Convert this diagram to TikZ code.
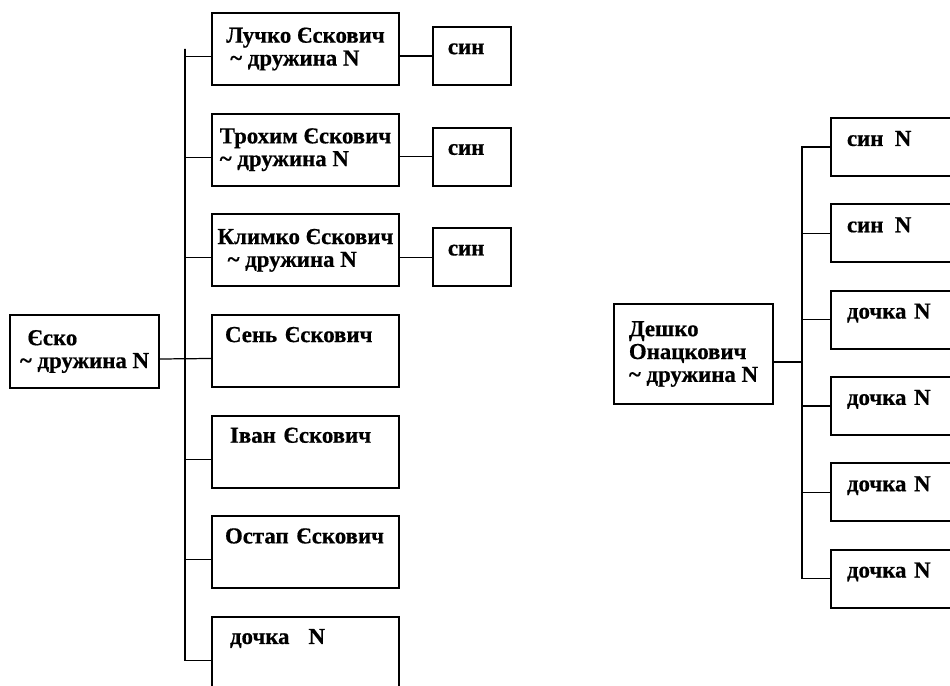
\documentclass[tikz,border=0pt]{standalone}
\usepackage{fontspec}
\setmainfont{Liberation Serif}[BoldFeatures={FakeBold=0.6}]
\usetikzlibrary{positioning}

\begin{document}
\begin{tikzpicture}[x=0.02cm, y=-0.02cm, node distance=0.535cm,
    font=\fontsize{13}{13}\selectfont\bfseries,
    person/.style={draw, rectangle, line width=1.1pt, minimum width=3.74cm, minimum height=1.44cm, align=left, inner sep=2pt},
    single/.style={person, text width=3.22cm, inner xsep=0.26cm, text depth=0.66cm},
    sonbox/.style={draw, rectangle, line width=1.1pt, minimum width=1.56cm, minimum height=1.16cm, text width=0.96cm, inner xsep=0.3cm, align=left, text depth=0.29cm},
    kidbox/.style={draw, rectangle, line width=1.1pt, minimum width=2.7cm, minimum height=1.16cm, text width=2.06cm, inner xsep=0.32cm, align=left, text depth=0.34cm},
    link/.style={line width=0.7pt}
    ]
    \path[use as bounding box, clip] (0,0) rectangle (950,686);

    \node[person, minimum width=2.98cm, minimum height=1.46cm] (esko) at (84.5,351.5) {\hspace*{0.15cm}Єско\\\textasciitilde\ дружина N};

    \node[person] (luchko) at (305.5,49) {Лучко Єскович\\\hspace*{0.08cm}\textasciitilde\ дружина N};
    \node[person, below=of luchko] (trokhym) {Трохим Єскович\\\textasciitilde\ дружина N};
    \node[person, below=of trokhym] (klymko) {Климко Єскович\\\hspace*{0.2cm}\textasciitilde\ дружина N};
    \node[single, below=of klymko] (sen) {Сень Єскович};
    \node[single, below=of sen] (ivan) {\hspace*{0.1cm}Іван Єскович};
    \node[single, below=of ivan] (ostap) {Остап Єскович};
    \node[single, below=of ostap] (dochka) {\hspace*{0.1cm}дочка\enspace\ N};

    \node[sonbox, right=0.64cm of luchko.south east, anchor=south west] (luchko_son) {син};
    \node[sonbox, right=0.64cm of trokhym.south east, anchor=south west] (trokhym_son) {син};
    \node[sonbox, right=0.64cm of klymko.south east, anchor=south west] (klymko_son) {син};

    \coordinate (l_trunk) at ([xshift=-0.52cm]luchko.west);
    \draw[link] ([yshift=-0.15cm]esko.east) -- ([yshift=-0.15cm]sen.west);
    \draw[link] ([yshift=-0.15cm]luchko.west) -| (l_trunk) |- ([yshift=-0.15cm]dochka.west);
    \foreach \kid in {trokhym,klymko,ivan,ostap} {
      \draw[link] ([yshift=-0.15cm]\kid.west) -- ([yshift=-0.15cm]\kid.west -| l_trunk);
    };
    \foreach \p in {luchko,trokhym,klymko} {
      \draw[link] (\p_son.west) -- (\p_son.west -| \p.east);
    };

    \node[person, minimum width=3.18cm, minimum height=2cm] (deshko) at (693.5,354) {Дешко\\Онацкович\\\textasciitilde\ дружина N};

    \node[kidbox, anchor=north west] (d_son1) at (830,117) {син\,\ N};
    \node[kidbox, below=0.528cm of d_son1] (d_son2) {син\,\ N};
    \node[kidbox, below=0.528cm of d_son2] (d_daughter1) {дочка N};
    \node[kidbox, below=0.528cm of d_daughter1] (d_daughter2) {дочка N};
    \node[kidbox, below=0.528cm of d_daughter2] (d_daughter3) {дочка N};
    \node[kidbox, below=0.528cm of d_daughter3] (d_daughter4) {дочка N};

    \coordinate (r_trunk) at ([xshift=-0.56cm]d_son1.west);
    \draw[link] (d_son1.west) -- (r_trunk) |- (d_daughter4.west);
    \foreach \kid in {d_son2,d_daughter1,d_daughter2,d_daughter3} {
      \draw[link] (\kid.west) -- (\kid.west -| r_trunk);
    };
    \draw[link] ([yshift=-0.16cm]deshko.east) -- ([yshift=-0.16cm]deshko.east -| r_trunk);
\end{tikzpicture}
\end{document}
